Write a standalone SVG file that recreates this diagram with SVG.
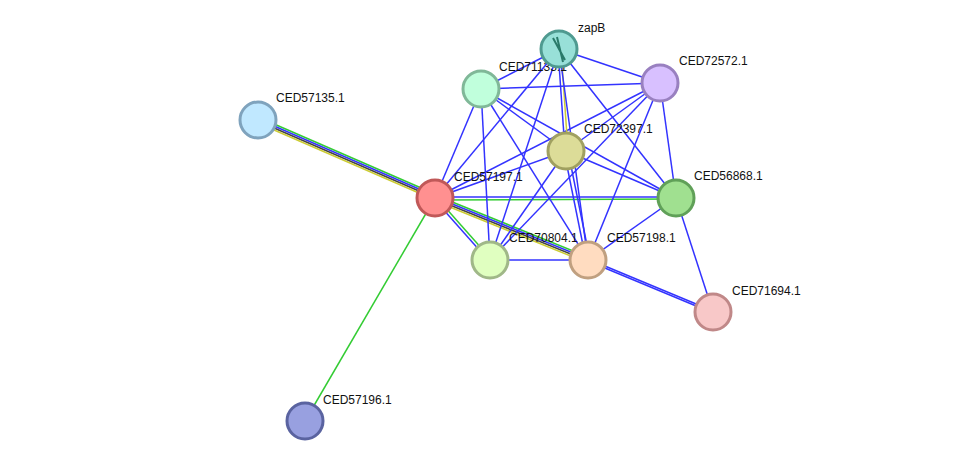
<svg xmlns="http://www.w3.org/2000/svg" width="976" height="467" viewBox="0 0 976 467">
<style>
.b{stroke:#3333ff;stroke-width:1.5;fill:none}
.g{stroke:#33cc33;stroke-width:1.5;fill:none}
.y{stroke:#cccc33;stroke-width:1.5;fill:none}
.k{stroke:#444;stroke-width:1.5;fill:none}
.n{stroke-width:3}
text{font-family:"Liberation Sans",Arial,sans-serif;font-size:12px;fill:#111}
</style>
<rect width="976" height="467" fill="#fff"/>
<g id="edges">
<line class="g" x1="258" y1="117" x2="435" y2="194"/>
<line class="b" x1="258" y1="119" x2="435" y2="196"/>
<line class="k" x1="258" y1="121" x2="435" y2="198"/>
<line class="y" x1="258" y1="123" x2="435" y2="200"/>
<line class="g" x1="435" y1="198" x2="305" y2="421"/>
<line class="b" x1="435" y1="197" x2="676" y2="197"/>
<line class="g" x1="435" y1="200" x2="676" y2="199"/>
<line class="g" x1="435" y1="195" x2="588" y2="257"/>
<line class="b" x1="435" y1="197" x2="588" y2="259"/>
<line class="k" x1="435" y1="199" x2="588" y2="261"/>
<line class="y" x1="435" y1="201" x2="588" y2="263"/>
<line class="b" x1="434" y1="199" x2="489" y2="261"/>
<line class="g" x1="436" y1="197" x2="491" y2="259"/>
<line class="b" x1="435" y1="198" x2="481" y2="89"/>
<line class="b" x1="435" y1="198" x2="559" y2="49"/>
<line class="b" x1="435" y1="198" x2="660" y2="83"/>
<line class="b" x1="435" y1="198" x2="566" y2="151"/>
<line class="y" x1="561" y1="49" x2="568" y2="151"/>
<line class="b" x1="558" y1="49" x2="565" y2="151"/>
<line class="b" x1="559" y1="49" x2="481" y2="89"/>
<line class="b" x1="559" y1="49" x2="660" y2="83"/>
<line class="b" x1="559" y1="49" x2="676" y2="198"/>
<line class="b" x1="559" y1="49" x2="490" y2="260"/>
<line class="b" x1="559" y1="49" x2="588" y2="260"/>
<line class="b" x1="481" y1="89" x2="660" y2="83"/>
<line class="b" x1="481" y1="89" x2="566" y2="151"/>
<line class="b" x1="481" y1="89" x2="676" y2="198"/>
<line class="b" x1="481" y1="89" x2="490" y2="260"/>
<line class="b" x1="481" y1="89" x2="588" y2="260"/>
<line class="b" x1="660" y1="83" x2="566" y2="151"/>
<line class="b" x1="660" y1="83" x2="490" y2="260"/>
<line class="b" x1="660" y1="83" x2="588" y2="260"/>
<line class="b" x1="660" y1="83" x2="676" y2="198"/>
<line class="b" x1="566" y1="151" x2="676" y2="198"/>
<line class="b" x1="566" y1="151" x2="490" y2="260"/>
<line class="b" x1="564" y1="151" x2="586" y2="260"/>
<line class="b" x1="568" y1="151" x2="590" y2="260"/>
<line class="b" x1="676" y1="198" x2="588" y2="260"/>
<line class="b" x1="676" y1="198" x2="713" y2="312"/>
<line class="b" x1="588" y1="259" x2="713" y2="311"/>
<line class="b" x1="588" y1="261" x2="713" y2="313"/>
<line class="b" x1="490" y1="260" x2="588" y2="260"/>
</g>
<g id="CED57135.1"><circle class="n" cx="258" cy="120" r="18" fill="#c0e8ff" stroke="#7fa3bd"/><text x="276" y="102">CED57135.1</text></g>
<g id="CED57196.1"><circle class="n" cx="305" cy="421" r="18" fill="#98a0e0" stroke="#5a63a0"/><text x="323" y="404">CED57196.1</text></g>
<g id="CED57197.1"><circle class="n" cx="435" cy="198" r="18" fill="#ff9090" stroke="#c05858"/><text x="454" y="181">CED57197.1</text></g>
<g id="CED71133.1"><circle class="n" cx="481" cy="89" r="18" fill="#c0ffdc" stroke="#80b898"/><text x="499" y="71">CED71133.1</text></g>
<g id="zapB"><circle class="n" cx="559" cy="49" r="18" fill="#98e0d8" stroke="#4f9a90"/><path d="M553 38 L565 60 M557 37 L563 62" stroke="#2a7a6a" stroke-width="2" fill="none"/><text x="578" y="32">zapB</text></g>
<g id="CED72572.1"><circle class="n" cx="660" cy="83" r="18" fill="#d8c0ff" stroke="#9980c0"/><text x="679" y="65">CED72572.1</text></g>
<g id="CED72397.1"><circle class="n" cx="566" cy="151" r="18" fill="#dcdc98" stroke="#a0a060"/><text x="584" y="133">CED72397.1</text></g>
<g id="CED56868.1"><circle class="n" cx="676" cy="198" r="18" fill="#a0e090" stroke="#60a058"/><text x="694" y="180">CED56868.1</text></g>
<g id="CED70804.1"><circle class="n" cx="490" cy="260" r="18" fill="#e0ffc0" stroke="#a0b888"/><text x="509" y="242">CED70804.1</text></g>
<g id="CED57198.1"><circle class="n" cx="588" cy="260" r="18" fill="#ffdcc0" stroke="#c0a080"/><text x="607" y="242">CED57198.1</text></g>
<g id="CED71694.1"><circle class="n" cx="713" cy="312" r="18" fill="#f8c8c8" stroke="#c08888"/><text x="732" y="295">CED71694.1</text></g>
</svg>
